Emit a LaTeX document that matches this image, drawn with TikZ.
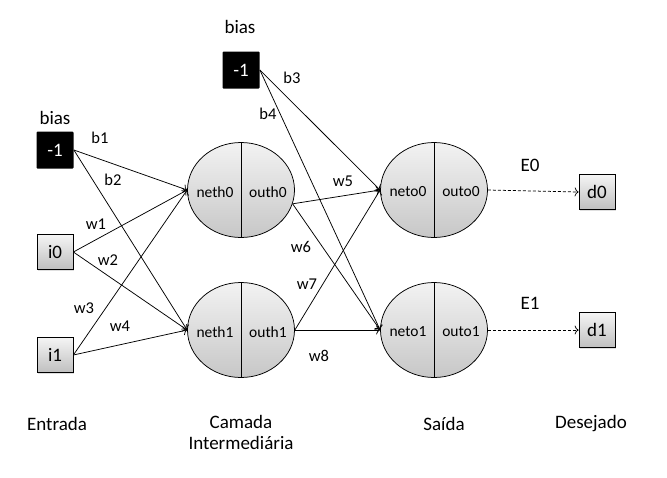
\documentclass[tikz,border=0pt]{standalone}
\usepackage{fontspec}
\setmainfont{Carlito}
\usetikzlibrary{arrows,arrows.meta,shapes.geometric,shadows}

\begin{document}
\begin{tikzpicture}[x=1pt,y=-1pt,->,>={To[length=4pt,width=9pt]},line width=0.75pt,
                    every node/.style={font=\fontsize{16.5}{18}\selectfont}]
  \tikzstyle{neuron}=[draw,ellipse,minimum width=107pt,minimum height=95pt,
                      top color=black!5,bottom color=black!22,inner sep=0pt]
  \tikzstyle{inbox}=[draw,minimum width=36pt,minimum height=35pt,inner sep=0pt,
                     top color=black!4,bottom color=black!25,
                     drop shadow={opacity=0.25,shadow xshift=1.2pt,shadow yshift=-1.2pt},
                     font=\fontsize{19}{21}\selectfont]
  \tikzstyle{biasbox}=[fill=black,text=white,minimum width=37pt,minimum height=37pt,
                       inner sep=0pt,rounded corners=1pt,font=\fontsize{19}{21}\selectfont]
  \tikzstyle{title}=[font=\fontsize{19}{21}\selectfont,align=center]
  \tikzstyle{inner}=[font=\fontsize{15.5}{17}\selectfont]

  \useasboundingbox (0,0) rectangle (667,477);

  % entradas
  \node[biasbox] (bias0) at (55,150) {-1};
  \node[title]   (bias0t) at (55,118) {bias};
  \node[inbox]   (i0) at (55,252) {i0};
  \node[inbox]   (i1) at (55,355) {i1};

  % camada intermediaria
  \node[biasbox] (bias1) at (241,70) {-1};
  \node[title]   (bias1t) at (240,27) {bias};
  \node[neuron]  (h0) at (241,190) {};
  \node[neuron]  (h1) at (241,330) {};
  \draw[-] (h0.north) -- (h0.south);
  \draw[-] (h1.north) -- (h1.south);
  \node[inner] (h0a) at (215,192) {neth0};
  \node[inner] (h0b) at (268,192) {outh0};
  \node[inner] (h1a) at (215,332) {neth1};
  \node[inner] (h1b) at (268,332) {outh1};

  % saida
  \node[neuron]  (o0) at (434,190) {};
  \node[neuron]  (o1) at (434,330) {};
  \draw[-] (o0.north) -- (o0.south);
  \draw[-] (o1.north) -- (o1.south);
  \node[inner] (o0a) at (408,192) {neto0};
  \node[inner] (o0b) at (461,192) {outo0};
  \node[inner] (o1a) at (408,332) {neto1};
  \node[inner] (o1b) at (461,332) {outo1};

  % desejado
  \node[inbox] (d0) at (597,192) {d0};
  \node[inbox] (d1) at (597,330) {d1};

  \path (bias0.east) edge (h0.west)
        (bias0.east) edge (h1.west)
        (i0.east)    edge (h0.west)
        (i0.east)    edge (h1.west)
        (i1.east)    edge (h0.west)
        (i1.east)    edge (h1.west)
        (bias1.east) edge (o0.west)
        (bias1.east) edge (o1.west)
        (h0.-15)     edge (o0.west)
        (h0.-15)     edge (o1.west)
        (h1.east)    edge (o0.west)
        (h1.east)    edge (o1.west);
  \path[dash pattern=on 3pt off 2pt] (o0.east) edge (d0.west)
                                     (o1.east) edge (d1.west);

  % pesos
  \node (b1) at (100,138) {b1};
  \node (b2) at (113,180) {b2};
  \node (w1) at (96,224)  {w1};
  \node (w2) at (108,260) {w2};
  \node (w3) at (84,308)  {w3};
  \node (w4) at (120,326) {w4};
  \node (b3) at (292,78)  {b3};
  \node (b4) at (268,114) {b4};
  \node (w5) at (343,181) {w5};
  \node (w6) at (301,247) {w6};
  \node (w7) at (307,284) {w7};
  \node (w8) at (319,356) {w8};
  \node[title] (e0) at (530,165) {E0};
  \node[title] (e1) at (530,303) {E1};

  % camadas
  \node[title] (lin)  at (57,424)  {Entrada};
  \node[title,anchor=north] (lhid) at (241,412) {Camada\\Intermediária};
  \node[title] (lout) at (444,424) {Saída};
  \node[title] (ldes) at (591,424) {Desejado};
\end{tikzpicture}
\end{document}
